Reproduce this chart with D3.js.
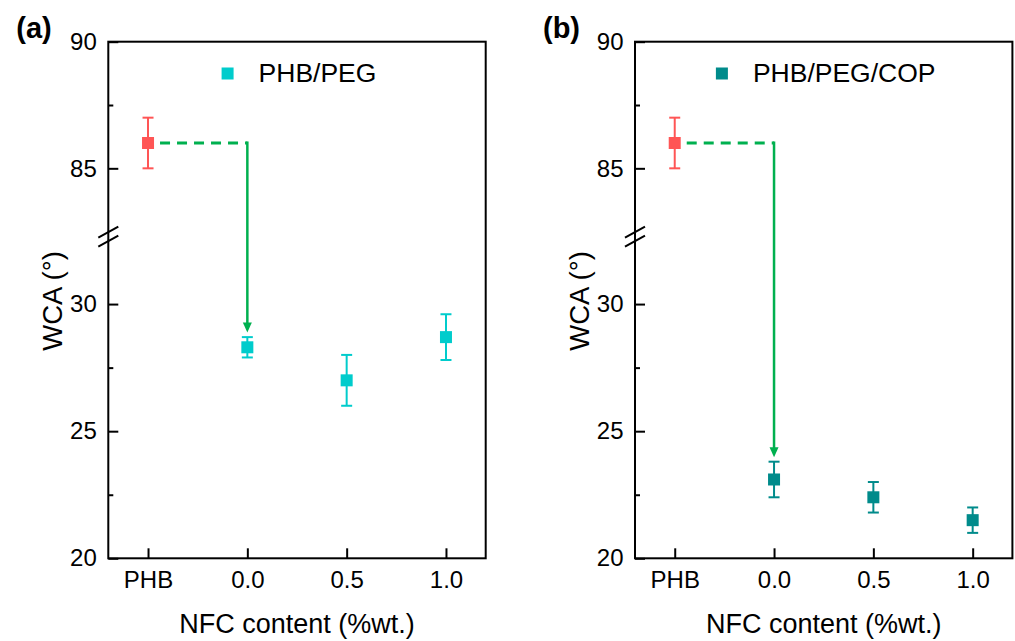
<!DOCTYPE html>
<html>
<head>
<meta charset="utf-8">
<script src="https://cdn.jsdelivr.net/npm/d3@7"></script>
<style>
  html, body { margin: 0; padding: 0; background: #fff; }
  svg { display: block; }
  text { font-family: "Liberation Sans", Arial, Helvetica, sans-serif; fill: #000; }
</style>
</head>
<body>
<svg id="chart" width="1015" height="641"></svg>
<script>
// ---- data ----
const categories = ["PHB", "0.0", "0.5", "1.0"];
const nfcLevels = ["0.0", "0.5", "1.0"];
const phbValue = 86.0;
const phbError = 1.0;
const pegValues = [28.3, 27.0, 28.7];
const pegErrors = [0.4, 1.0, 0.9];
const copValues = [23.1, 22.4, 21.5];
const copErrors = [0.7, 0.6, 0.5];
const yMajorTicks = [20, 25, 30, 85, 90];
const yMinorTicks = [22.5, 27.5, 87.5];
const yBreak = [32.65, 82.3]; // lower segment top, upper segment bottom
const panelLabels = ["(a)", "(b)"];
const seriesNames = ["PHB/PEG", "PHB/PEG/COP"];

// ---- styles ----
const colPHB = "#ff5555";
const seriesColors = ["#00cccc", "#008b8b"];
const colArrow = "#00b04f";

const svg = d3.select("#chart");
const panelW = 377.4, plotTop = 41.7, plotBottom = 558.3;
const breakY = 236.7;
const panels = [
  { left: 108.3, values: pegValues, errors: pegErrors },
  { left: 635.0, values: copValues, errors: copErrors }
];

panels.forEach((p, i) => {
  const g = svg.append("g");
  const x = d3.scalePoint().domain(categories).range([p.left, p.left + panelW]).padding(0.4);
  const y = d3.scaleLinear()
    .domain([20, yBreak[0], yBreak[1], 90])
    .range([plotBottom, breakY, breakY, plotTop]);

  // axes
  const yAxis = d3.axisLeft(y).tickValues(yMajorTicks).tickSizeInner(-10).tickSizeOuter(0).tickPadding(11.5).tickFormat(d3.format("d"));
  const ya = g.append("g").attr("transform", `translate(${p.left},0)`).call(yAxis);
  const yMinor = d3.axisLeft(y).tickValues(yMinorTicks).tickSizeInner(-5).tickSizeOuter(0).tickFormat("");
  const ym = g.append("g").attr("transform", `translate(${p.left},0)`).call(yMinor);
  const xAxis = d3.axisBottom(x).tickSizeInner(-10).tickSizeOuter(0).tickPadding(13);
  const xa = g.append("g").attr("transform", `translate(0,${plotBottom})`).call(xAxis);
  [ya, ym, xa].forEach(a => {
    a.select(".domain").remove();
    a.selectAll("line").attr("stroke", "#000").attr("stroke-width", 2);
    a.selectAll("text").attr("font-size", 24).attr("fill", "#000")
      .style("font-family", '"Liberation Sans", Arial, sans-serif');
  });

  // frame
  g.append("rect").attr("x", p.left).attr("y", plotTop).attr("width", panelW).attr("height", plotBottom - plotTop)
    .attr("fill", "none").attr("stroke", "#000").attr("stroke-width", 2);

  // axis break marks
  [-4.5, 4.5].forEach(off => {
    g.append("line")
      .attr("x1", p.left - 10).attr("y1", breakY + off + 5.5)
      .attr("x2", p.left + 10).attr("y2", breakY + off - 5.5)
      .attr("stroke", "#000").attr("stroke-width", 2);
  });

  // arrow: dashed horizontal from PHB to 0.0, then vertical down
  const x0 = x("PHB"), x1 = x("0.0");
  const yPHB = y(phbValue);
  const tipY = y(p.values[0] + p.errors[0]) - 4.5;
  g.append("line").attr("x1", x0 + 12).attr("x2", x1).attr("y1", yPHB).attr("y2", yPHB)
    .attr("stroke", colArrow).attr("stroke-width", 3).attr("stroke-dasharray", "10,7");
  g.append("line").attr("x1", x1).attr("x2", x1).attr("y1", yPHB - 1.5).attr("y2", tipY - 8)
    .attr("stroke", colArrow).attr("stroke-width", 2.5);
  g.append("path")
    .attr("d", `M${x1 - 4.5},${tipY - 10} L${x1 + 4.5},${tipY - 10} L${x1},${tipY} Z`)
    .attr("fill", colArrow);

  // points with error bars
  const pts = [{ c: "PHB", v: phbValue, e: phbError, col: colPHB }]
    .concat(nfcLevels.map((c, k) => ({ c, v: p.values[k], e: p.errors[k], col: seriesColors[i] })));
  const pg = g.selectAll("g.pt").data(pts).enter().append("g").attr("class", "pt");
  pg.append("line").attr("x1", d => x(d.c)).attr("x2", d => x(d.c))
    .attr("y1", d => y(d.v + d.e)).attr("y2", d => y(d.v - d.e))
    .attr("stroke", d => d.col).attr("stroke-width", 2);
  [1, -1].forEach(s => {
    pg.append("line").attr("x1", d => x(d.c) - 5.5).attr("x2", d => x(d.c) + 5.5)
      .attr("y1", d => y(d.v + s * d.e)).attr("y2", d => y(d.v + s * d.e))
      .attr("stroke", d => d.col).attr("stroke-width", 2);
  });
  pg.append("rect").attr("x", d => x(d.c) - 6).attr("y", d => y(d.v) - 6)
    .attr("width", 12).attr("height", 12).attr("fill", d => d.col);

  // legend
  const cx = p.left + panelW / 2 + 2;
  const lg = g.append("g");
  const lt = lg.append("text").attr("font-size", 26.5).attr("y", 82).text(seriesNames[i]);
  const tw = lt.node().getComputedTextLength();
  const total = 12 + 25 + tw;
  const lx = cx - total / 2;
  lg.append("rect").attr("x", lx).attr("y", 67.5).attr("width", 12).attr("height", 12).attr("fill", seriesColors[i]);
  lt.attr("x", lx + 37);

  // labels
  g.append("text").attr("x", p.left - 92).attr("y", 38).attr("font-size", 29).attr("font-weight", "bold").text(panelLabels[i]);
  g.append("text").attr("transform", `translate(${p.left - 46.5},${(plotTop + plotBottom) / 2 + 1}) rotate(-90)`)
    .attr("text-anchor", "middle").attr("font-size", 27.5).text("WCA (°)");
  g.append("text").attr("x", p.left + panelW / 2).attr("y", 633).attr("text-anchor", "middle")
    .attr("font-size", 27).text("NFC content (%wt.)");
});
</script>
</body>
</html>
